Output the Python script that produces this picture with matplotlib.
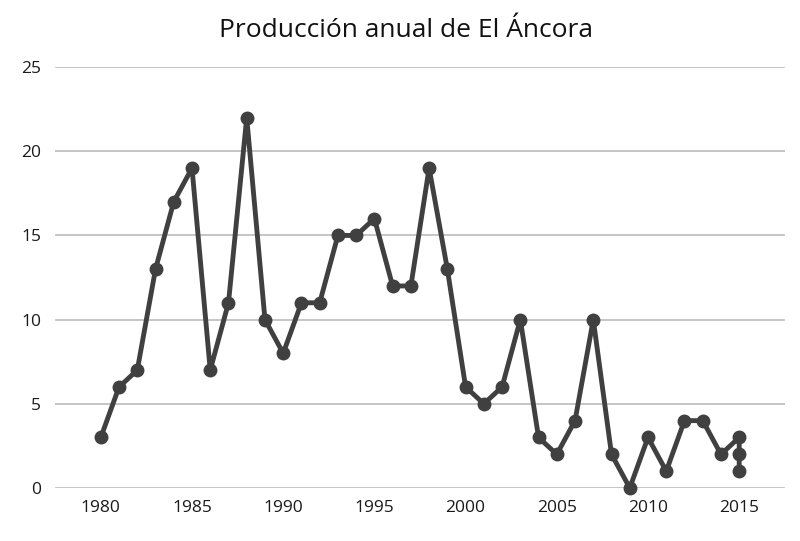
import matplotlib
matplotlib.use("Agg")
import matplotlib.pyplot as plt

plt.rcParams['font.family'] = ['Open Sans', 'DejaVu Sans']

years = [1980, 1981, 1982, 1983, 1984, 1985, 1986, 1987, 1988, 1989,
         1990, 1991, 1992, 1993, 1994, 1995, 1996, 1997, 1998, 1999,
         2000, 2001, 2002, 2003, 2004, 2005, 2006, 2007, 2008, 2009,
         2010, 2011, 2012, 2013, 2014, 2015, 2015, 2015]
production = [3, 6, 7, 13, 17, 19, 7, 11, 22, 10,
              8, 11, 11, 15, 15, 16, 12, 12, 19, 13,
              6, 5, 6, 10, 3, 2, 4, 10, 2, 0,
              3, 1, 4, 4, 2, 3, 2, 1]
xticks = [1980, 1985, 1990, 1995, 2000, 2005, 2010, 2015]
yticks = [0, 5, 10, 15, 20, 25]

fig = plt.figure(figsize=(8, 5.41), dpi=100)
ax = fig.add_axes([0.069, 0.098, 0.912, 0.778])

ax.plot(years, production, color='#404040', linewidth=3.5,
        marker='o', markersize=9, clip_on=False, zorder=3)

ax.set_xlim(1977.5, 2017.5)
ax.set_ylim(0, 25)
ax.set_xticks(xticks)
ax.set_yticks(yticks)
ax.yaxis.grid(True, color='#c0c0c0', linewidth=1.3)
ax.set_axisbelow(True)
for s in ax.spines.values():
    s.set_visible(False)
ax.tick_params(axis='both', length=0, labelsize=12.5, colors='#1a1a1a')
ax.tick_params(axis='x', pad=9)
ax.tick_params(axis='y', pad=10)

fig.text(0.507, 0.943, "Producción anual de El Áncora", ha='center', va='center',
         fontsize=19, color='#111111')

fig.savefig("out.png", dpi=100)
